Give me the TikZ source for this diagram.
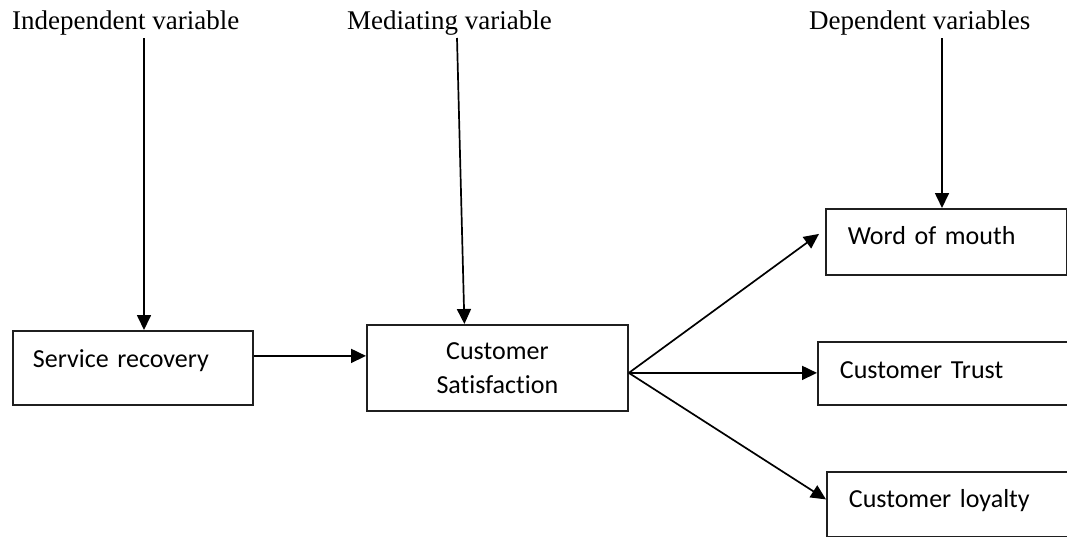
\documentclass[tikz,border=0pt]{standalone}
\usepackage{fontspec}
\usepackage{tikz}
\usetikzlibrary{arrows.meta}
\usetikzlibrary{positioning}
\newfontfamily\headfont{Liberation Serif}
\newfontfamily\boxfontfam[WordSpace=0.8, RawFeature=-liga]{Carlito}
\newcommand{\boxfont}{\boxfontfam\fontsize{26}{34}\selectfont}
\newcommand{\hdfont}{\headfont\fontsize{27}{32}\selectfont}
\definecolor{lgrey}{rgb}{0.12, 0.12, 0.12}
\tikzset{varbox/.style = {draw=lgrey, line width=1.8pt, anchor=north west,
                          inner ysep=0pt, align=left, font=\boxfont},
         flow/.style = {-{Triangle[length=15pt, width=14pt]}, line width=1.7pt},
         heading/.style = {anchor=base west, inner sep=0pt, font=\hdfont}}

\begin{document}
\begin{tikzpicture}[x=1pt, y=-1pt]
      \clip (0, 0) rectangle (1067, 536);

      \node [heading] (ivar) at (12, 29) {Independent variable};
      \node [heading] (mvar) at (347, 29) {Mediating variable};
      \node [heading] (dvar) at (809, 29) {Dependent variables};

      \coordinate (ivtop) at (144, 38);
      \coordinate (mvtop) at (457, 38);
      \coordinate (dvtop) at (942, 38);

      \node [varbox, inner xsep=20pt, text width=200pt,
             text height=37pt, text depth=37pt] (sr) at (12, 330) {Service recovery};
      \node [varbox, align=center, inner xsep=10pt, text width=241pt,
             minimum height=86pt] (cs) at (366, 324) {Customer\\Satisfaction};
      \node [varbox, inner xsep=22pt, text width=197pt,
             text height=36pt, text depth=30pt] (wm) at (825, 208) {Word of mouth};
      \node [varbox, inner xsep=22pt, text width=219pt,
             text height=37pt, text depth=26pt] (ct) at (817, 341) {Customer Trust};
      \node [varbox, inner xsep=22pt, text width=210pt,
             text height=36pt, text depth=29pt] (cl) at (826, 471) {Customer loyalty};

      \coordinate (fan) at ([yshift=-5pt]cs.east);

      \draw [flow] (ivtop) -- (ivtop |- sr.north);
      \draw [flow] (mvtop) -- ([xshift=-33pt]cs.north);
      \draw [flow] (dvtop) -- (dvtop |- wm.north);

      \draw [flow] ([yshift=12pt]sr.east) -- ([yshift=12pt]sr.east -| cs.west);
      \draw [flow] (fan) -- ([xshift=-6pt, yshift=8pt]wm.west);
      \draw [flow] (fan) -- (fan -| ct.west);
      \draw [flow] (fan) -- ([yshift=5pt]cl.west);
    \end{tikzpicture}
\end{document}
